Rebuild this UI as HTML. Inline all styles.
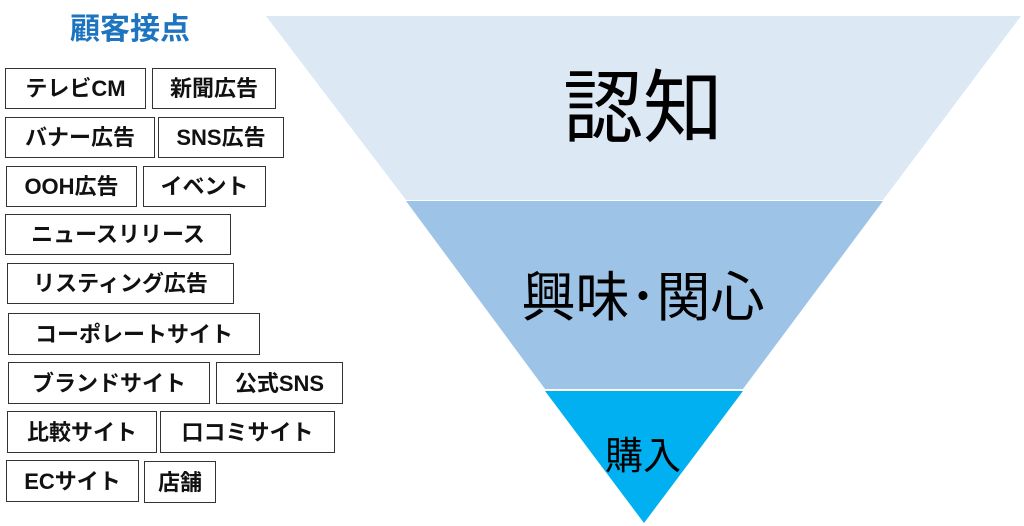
<!DOCTYPE html>
<html><head><meta charset="utf-8"><style>
body{margin:0;width:1024px;height:526px;background:#fff;position:relative;overflow:hidden;font-family:"Liberation Sans","Noto Sans CJK JP",sans-serif;}
.b{position:absolute;box-sizing:border-box;border:1.5px solid #333;background:#fff;font-weight:bold;font-size:22px;line-height:1;display:flex;align-items:center;justify-content:center;color:#111;white-space:nowrap;padding-top:1px;}
.t{position:absolute;color:#000;text-align:center;white-space:nowrap;font-family:"Noto Sans CJK JP",sans-serif;}
</style></head><body>
<svg width="1024" height="526" style="position:absolute;left:0;top:0">
<polygon points="266,16 1021,16 883,200 406,200" fill="#dde8f5"/>
<polygon points="406,201 883,201 743,389 545,389" fill="#9dc3e6"/>
<polygon points="545,391 743,391 644,523" fill="#00b0f0"/>
</svg>
<div class="t" style="left:30px;top:10px;width:200px;font-size:30px;font-weight:bold;color:#1f74c0;line-height:40px;font-family:'Liberation Sans','Noto Sans CJK JP',sans-serif">顧客接点</div>
<div class="b" style="left:5px;top:68px;width:141px;height:41px">テレビCM</div>
<div class="b" style="left:152px;top:68px;width:124px;height:41px">新聞広告</div>
<div class="b" style="left:5px;top:117px;width:150px;height:41px">バナー広告</div>
<div class="b" style="left:158px;top:117px;width:126px;height:41px">SNS広告</div>
<div class="b" style="left:6px;top:166px;width:131px;height:41px">OOH広告</div>
<div class="b" style="left:143px;top:166px;width:123px;height:41px">イベント</div>
<div class="b" style="left:5px;top:214px;width:226px;height:41px">ニュースリリース</div>
<div class="b" style="left:7px;top:263px;width:227px;height:41px">リスティング広告</div>
<div class="b" style="left:8px;top:313px;width:252px;height:42px">コーポレートサイト</div>
<div class="b" style="left:8px;top:362px;width:202px;height:42px">ブランドサイト</div>
<div class="b" style="left:216px;top:362px;width:127px;height:42px">公式SNS</div>
<div class="b" style="left:7px;top:411px;width:150px;height:42px">比較サイト</div>
<div class="b" style="left:160px;top:411px;width:175px;height:42px">口コミサイト</div>
<div class="b" style="left:6px;top:460px;width:133px;height:42px">ECサイト</div>
<div class="b" style="left:144px;top:461px;width:72px;height:42px">店舗</div>
<div class="t" style="left:443px;top:52px;width:400px;font-size:80px;line-height:100px">認知</div>
<div class="t" style="left:443px;top:260px;width:400px;font-size:54px;line-height:66px">興味･関心</div>
<div class="t" style="left:543px;top:428px;width:200px;font-size:38px;line-height:50px">購入</div>
</body></html>
